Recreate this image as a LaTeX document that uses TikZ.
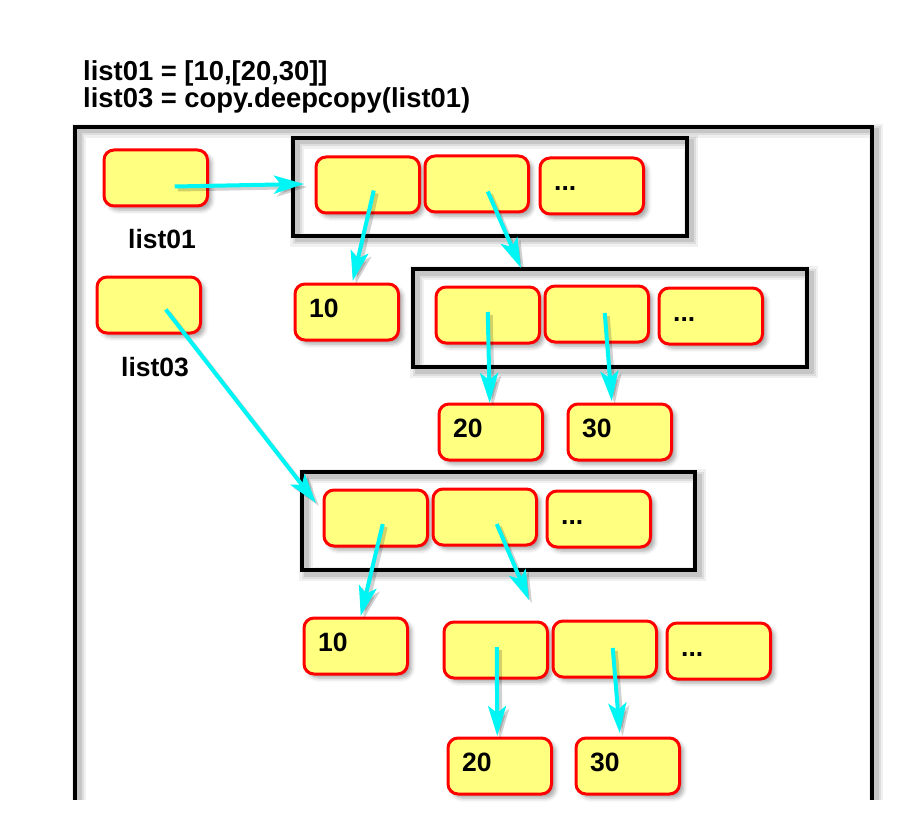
\documentclass[tikz,border=0pt]{standalone}
\usepackage{fontspec}
\setmainfont{Liberation Sans}
\usetikzlibrary{arrows.meta,shadows.blur}
\definecolor{cellyellow}{RGB}{255,255,128}
\definecolor{cellred}{RGB}{255,0,0}
\definecolor{arrowcyan}{RGB}{0,245,245}
\tikzset{
  cell/.style={draw=cellred, line width=3pt, fill=cellyellow, rounded corners=10pt,
    minimum width=103.5pt, minimum height=56pt, inner sep=0pt, outer sep=0pt, anchor=north west,
    blur shadow={shadow xshift=4pt, shadow yshift=-4pt, shadow blur radius=4pt, shadow opacity=35}},
  frm/.style={draw=black, line width=4.5pt, inner sep=0pt, outer sep=0pt, anchor=north west,
    preaction={draw=black, draw opacity=0.06, line width=14pt, transform canvas={shift={(4pt,-4pt)}}},
    preaction={draw=black, draw opacity=0.08, line width=9pt, transform canvas={shift={(4pt,-4pt)}}},
    preaction={draw=black, draw opacity=0.10, line width=5pt, transform canvas={shift={(4pt,-4pt)}}}},
  txt/.style={font=\fontsize{26.5}{27}\selectfont\bfseries, inner sep=0pt, anchor=base west},
  head/.style={font=\fontsize{27.4}{28}\selectfont\bfseries, inner sep=0pt, anchor=base west},
  conn/.style={draw=arrowcyan, line width=4pt, -{Stealth[length=30pt,width=18pt,inset=7pt]},
    preaction={draw=black, draw opacity=0.18, fill opacity=0.18, line width=4pt,
      -{Stealth[length=30pt,width=18pt,inset=7pt]}, transform canvas={shift={(3pt,-3pt)}}}}
}
\begin{document}
\begin{tikzpicture}[x=1pt,y=-1pt]
\useasboundingbox (0,0) rectangle (920,818);
% header text
\node[head] (h1) at (83,81) {list01 = [10,[20,30]]};
\node[head] (h2) at (83,108) {list03 = copy.deepcopy(list01)};
% outer frame (cut at bottom)
\begin{scope}
\clip (0,0) rectangle (920,799);
\node[frm, minimum width=797pt, minimum height=720pt] (outer) at (75,127) {};
\end{scope}
% variables
\node[cell] (v1) at (104,150) {};
\node[txt] (v1l) at (128,248) {list01};
\node[cell] (v3) at (97,277) {};
\node[txt] (v3l) at (121,376) {list03};
% first list
\node[frm, minimum width=394pt, minimum height=98pt] (f1) at (293,138) {};
\node[cell] (a1) at (316,157) {};
\node[cell] (a2) at (425,156) {};
\node[cell] (a3) at (540,158) {};
\node[txt] (a3t) at ([shift={(14,33)}]a3.north west) {...};
\node[cell] (ten1) at (295,284) {};
\node[txt] (ten1t) at ([shift={(14,33)}]ten1.north west) {10};
% nested list
\node[frm, minimum width=394pt, minimum height=98pt] (f2) at (413,269) {};
\node[cell] (b1) at (436,287) {};
\node[cell] (b2) at (545,286) {};
\node[cell] (b3) at (659,288) {};
\node[txt] (b3t) at ([shift={(14,33)}]b3.north west) {...};
\node[cell] (t20a) at (439,404) {};
\node[txt] (t20at) at ([shift={(14,33)}]t20a.north west) {20};
\node[cell] (t30a) at (568,404) {};
\node[txt] (t30at) at ([shift={(14,33)}]t30a.north west) {30};
% deep copy
\node[frm, minimum width=393pt, minimum height=98pt] (f3) at (302,472) {};
\node[cell] (c1) at (324,490) {};
\node[cell] (c2) at (433,489) {};
\node[cell] (c3) at (547,491) {};
\node[txt] (c3t) at ([shift={(14,33)}]c3.north west) {...};
\node[cell] (ten2) at (304,618) {};
\node[txt] (ten2t) at ([shift={(14,33)}]ten2.north west) {10};
\node[cell] (d1) at (444,622) {};
\node[cell] (d2) at (553,621) {};
\node[cell] (d3) at (667,623) {};
\node[txt] (d3t) at ([shift={(14,33)}]d3.north west) {...};
\node[cell] (t20b) at (448,738) {};
\node[txt] (t20bt) at ([shift={(14,33)}]t20b.north west) {20};
\node[cell] (t30b) at (576,738) {};
\node[txt] (t30bt) at ([shift={(14,33)}]t30b.north west) {30};
\coordinate (free8) at (529,600);
% connectors
\draw[conn] ([shift={(19,8.5)}]v1.center) -- ([shift={(11,-3)}]f1.west);
\draw[conn] ([shift={(6,5.5)}]a1.center) -- ([shift={(6,-3)}]ten1.north);
\draw[conn] ([shift={(11,7.5)}]a2.center) -- ([shift={(-89,-1)}]f2.north);
\draw[conn] ([shift={(17,4.5)}]v3.center) -- ([shift={(14,-18)}]f3.west);
\draw[conn] ([shift={(0,-3)}]b1.center) -- ([shift={(-1,-1)}]t20a.north);
\draw[conn] ([shift={(8,-1)}]b2.center) -- ([shift={(-8,-3)}]t30a.north);
\draw[conn] ([shift={(7,6)}]c1.center) -- ([shift={(5,-2)}]ten2.north);
\draw[conn] ([shift={(12,7)}]c2.center) -- (free8);
\draw[conn] ([shift={(1,-3)}]d1.center) -- ([shift={(-2.5,-2)}]t20b.north);
\draw[conn] ([shift={(8,-1)}]d2.center) -- ([shift={(-8,-5)}]t30b.north);
\end{tikzpicture}
\end{document}
